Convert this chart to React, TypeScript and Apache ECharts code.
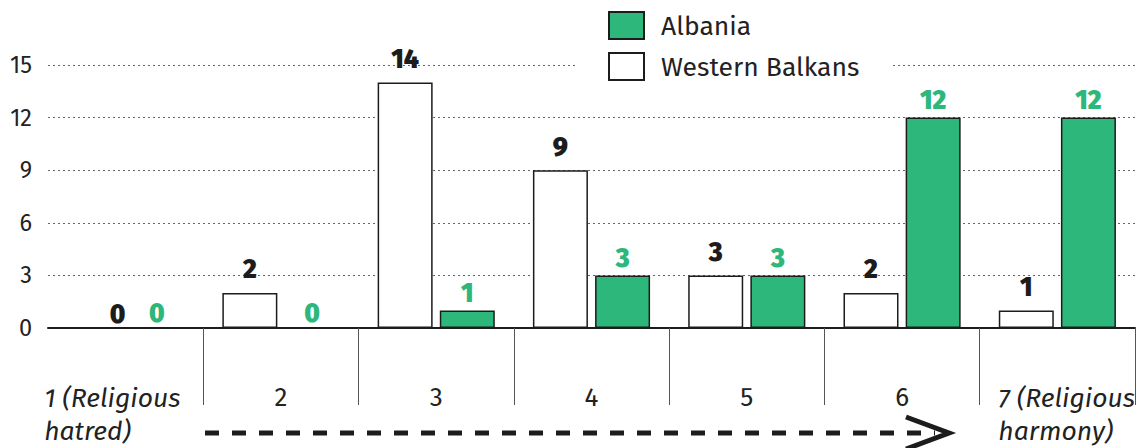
import React, { useEffect, useRef } from "react";
import * as echarts from "echarts";

const categories = ["1", "2", "3", "4", "5", "6", "7"];
const categoryLabels = ["1 (Religious\nhatred)", "2", "3", "4", "5", "6", "7 (Religious\nharmony)"];
const westernBalkans = [0, 2, 14, 9, 3, 2, 1];
const albania = [0, 0, 1, 3, 3, 12, 12];
const yTicks = { min: 0, max: 15, interval: 3 };

const GREEN = "#2eb77a";
const DARK = "#1c1c1c";
const FONT = "'Fira Sans', 'Noto Sans', sans-serif";

export default function App() {
  const ref = useRef<HTMLDivElement>(null);
  useEffect(() => {
    if (!ref.current) return;
    const chart = echarts.init(ref.current, null, { renderer: "svg" });
    const labelFor = (i: number) => {
      const t = categoryLabels[i];
      if (i === 0) return t.split("\n").map((l) => `{l|${l}}`).join("\n");
      if (i === categories.length - 1) return t.split("\n").map((l) => `{r|${l}}`).join("\n");
      return `{n|${t}}`;
    };
    chart.setOption({
      animation: false,
      textStyle: { fontFamily: FONT },
      grid: { left: 48, right: 4, top: 65, bottom: 120, containLabel: false },
      legend: {
        data: ["Albania", "Western Balkans"],
        orient: "vertical",
        left: 575,
        top: 4,
        padding: [7, 33, 5, 33],
        itemGap: 12,
        itemWidth: 35,
        itemHeight: 27,
        icon: "rect",
        backgroundColor: "#fff",
        textStyle: { fontSize: 26.5, lineHeight: 27, color: "#222", fontFamily: FONT, padding: [0, 0, 0, 12] },
      },
      xAxis: {
        type: "category",
        data: categories,
        boundaryGap: true,
        axisLine: { show: true, lineStyle: { color: DARK, width: 2 } },
        axisTick: {
          show: true,
          length: 77,
          interval: (i: number) => i > 0,
          lineStyle: { color: "#555", width: 1 },
        },
        axisLabel: {
          margin: 53,
          interval: 0,
          formatter: (_v: string, i: number) => labelFor(i),
          rich: {
            n: { fontSize: 26, color: "#222", fontFamily: FONT, lineHeight: 33 },
            l: { fontSize: 26.5, color: "#222", fontStyle: "italic", fontFamily: FONT, width: 163, align: "left", lineHeight: 33 },
            r: { fontSize: 26.5, color: "#222", fontStyle: "italic", fontFamily: FONT, width: 118, align: "left", lineHeight: 33 },
          },
        },
      },
      yAxis: {
        type: "value",
        min: yTicks.min,
        max: yTicks.max,
        interval: yTicks.interval,
        axisLine: { show: false },
        axisTick: { show: false },
        axisLabel: { fontSize: 23.5, color: "#222", margin: 16, fontFamily: FONT },
        splitLine: { show: true, lineStyle: { color: "#666", width: 1, type: [2, 3] } },
      },
      series: [
        {
          name: "Western Balkans",
          type: "bar",
          barWidth: 55,
          barGap: "13%",
          data: westernBalkans.map((v, i) =>
            v === 0 ? { value: v, label: { offset: [i === 0 ? 23 : 0, 10] } } : v
          ),
          itemStyle: { color: "#fff", borderColor: DARK, borderWidth: 1.5 },
          label: {
            show: true,
            position: "top",
            distance: 10,
            fontSize: 26,
            fontWeight: 900,
            color: DARK,
            fontFamily: FONT,
          },
        },
        {
          name: "Albania",
          type: "bar",
          barWidth: 55,
          data: albania.map((v) => (v === 0 ? { value: v, label: { offset: [0, 3] } } : v)),
          itemStyle: { color: GREEN, borderColor: DARK, borderWidth: 1.5 },
          label: {
            show: true,
            position: "top",
            distance: 4,
            fontSize: 26,
            fontWeight: 900,
            color: GREEN,
            fontFamily: FONT,
          },
        },
      ],
      graphic: [
        {
          type: "line",
          shape: { x1: 205, y1: 433, x2: 935, y2: 433 },
          style: { stroke: DARK, lineWidth: 5, lineDash: [14, 13] },
        },
        {
          type: "polyline",
          shape: { points: [[906, 417], [949, 433], [906, 449]] },
          style: { stroke: DARK, lineWidth: 5, fill: "none" },
        },
      ],
    });
    return () => chart.dispose();
  }, []);
  return (
    <div
      ref={ref}
      style={{ position: "fixed", left: 0, top: 0, width: 1139, height: 448, background: "#fff" }}
    />
  );
}
